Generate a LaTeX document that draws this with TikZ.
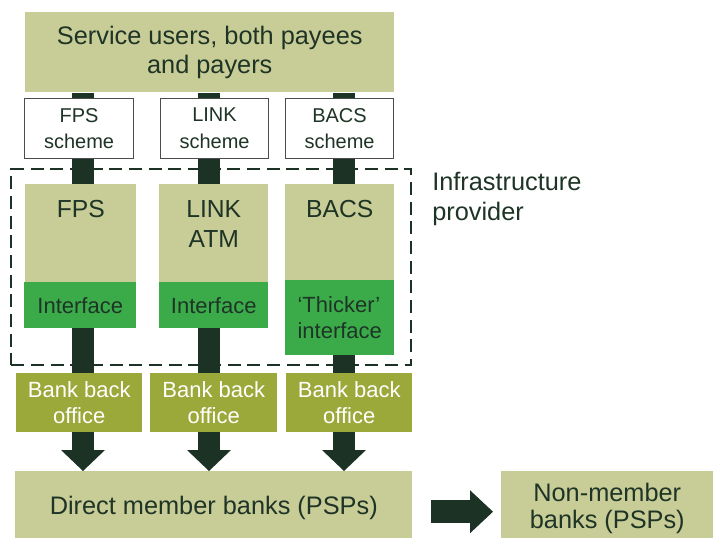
\documentclass[tikz,border=0pt]{standalone}
\usepackage{fontspec}
\setmainfont{Liberation Sans}
\usetikzlibrary{arrows.meta,backgrounds}
\definecolor{paleolive}{HTML}{C8CC96}
\definecolor{ifgreen}{HTML}{3BAB4A}
\definecolor{bankolive}{HTML}{9BA93A}
\definecolor{darkbar}{HTML}{1C3224}
\definecolor{inkgreen}{HTML}{1E3426}
\tikzset{
  sized/.style 2 args={anchor=north west, minimum width=#1*0.75pt,
    minimum height=#2*0.75pt},
  box/.style={inner sep=0pt, align=center, text=inkgreen,
    font=\fontsize{19}{22}\selectfont},
  userbox/.style={box, fill=paleolive},
  schemebox/.style={box, fill=white, draw=black!70, line width=0.8pt,
    font=\fontsize{15}{20}\selectfont},
  sysbox/.style={box, fill=paleolive},
  systext/.style={anchor=north, inner sep=0pt, yshift=-12pt, align=center,
    text=inkgreen, font=\fontsize{18.5}{22.5}\selectfont},
  ifbox/.style={box, fill=ifgreen, font=\fontsize{16.5}{19}\selectfont},
  bankbox/.style={box, fill=bankolive, text=white,
    font=\fontsize{16.5}{19.5}\selectfont},
  providerbox/.style={draw=darkbar, line width=1.8pt,
    dash pattern=on 9.75pt off 5pt, inner sep=0pt},
  bar/.style={draw=darkbar, line width=16pt,
    -{Triangle[length=15.75pt,width=33pt,line width=0pt]}},
  bigarrow/.style={draw=darkbar, line width=17.25pt,
    -{Triangle[length=17.25pt,width=32.25pt,line width=0pt]}}
}
\begin{document}
\begin{tikzpicture}[x=0.75pt,y=-0.75pt]
  \useasboundingbox (0,0) rectangle (713,538);
  \node[userbox, sized={369}{80}] (users) at (25,12) {Service users, both payees\\and payers};
  \node[schemebox, sized={109}{60}] (fpsscheme) at (24,98) {FPS\\scheme};
  \node[schemebox, sized={108}{60}] (linkscheme) at (160,98) {LINK\\scheme};
  \node[schemebox, sized={108}{60}] (bacsscheme) at (285,98) {BACS\\scheme};
  \node[providerbox, sized={400}{196}] (provider) at (10,168) {};
  \node[anchor=north west, inner sep=0pt, align=left, text=inkgreen,
    font=\fontsize{19}{22.5}\selectfont] (providertext) at (432,172) {Infrastructure\\provider};
  \node[sysbox, sized={111}{98}, label={[systext]north:FPS}] (fps) at (25,184) {};
  \node[sysbox, sized={109}{98}, label={[systext]north:LINK\\ATM}] (link) at (159,184) {};
  \node[sysbox, sized={109}{96}, label={[systext]north:BACS}] (bacs) at (285,184) {};
  \node[ifbox, sized={112}{46}] (fpsif) at (24,282) {Interface};
  \node[ifbox, sized={109}{46}] (linkif) at (159,282) {Interface};
  \node[ifbox, sized={109}{75}, align=left] (bacsif) at (285,280) {`Thicker'\\interface};
  \node[bankbox, sized={126}{59}] (fpsbank) at (16,373) {Bank back\\office};
  \node[bankbox, sized={127}{59}] (linkbank) at (150,373) {Bank back\\office};
  \node[bankbox, sized={126}{59}] (bacsbank) at (286,373) {Bank back\\office};
  \node[userbox, sized={397}{74}] (direct) at (15,471) {Direct member banks (PSPs)};
  \node[userbox, sized={212}{74}, font=\fontsize{19}{20.5}\selectfont] (nonmember) at (501,471) {Non-member\\banks (PSPs)};
  \coordinate (fpsx) at (83,0);
  \coordinate (linkx) at (209,0);
  \coordinate (bacsx) at (344,0);
  \begin{scope}[on background layer]
    \foreach \c in {fpsx,linkx,bacsx}
      \draw[bar] (\c |- users.south) -- (\c |- direct.north);
  \end{scope}
  \draw[bigarrow] ([xshift=13.5pt,yshift=-2.6pt]direct.east) -- ([xshift=-6pt,yshift=-2.6pt]nonmember.west);
\end{tikzpicture}
\end{document}
